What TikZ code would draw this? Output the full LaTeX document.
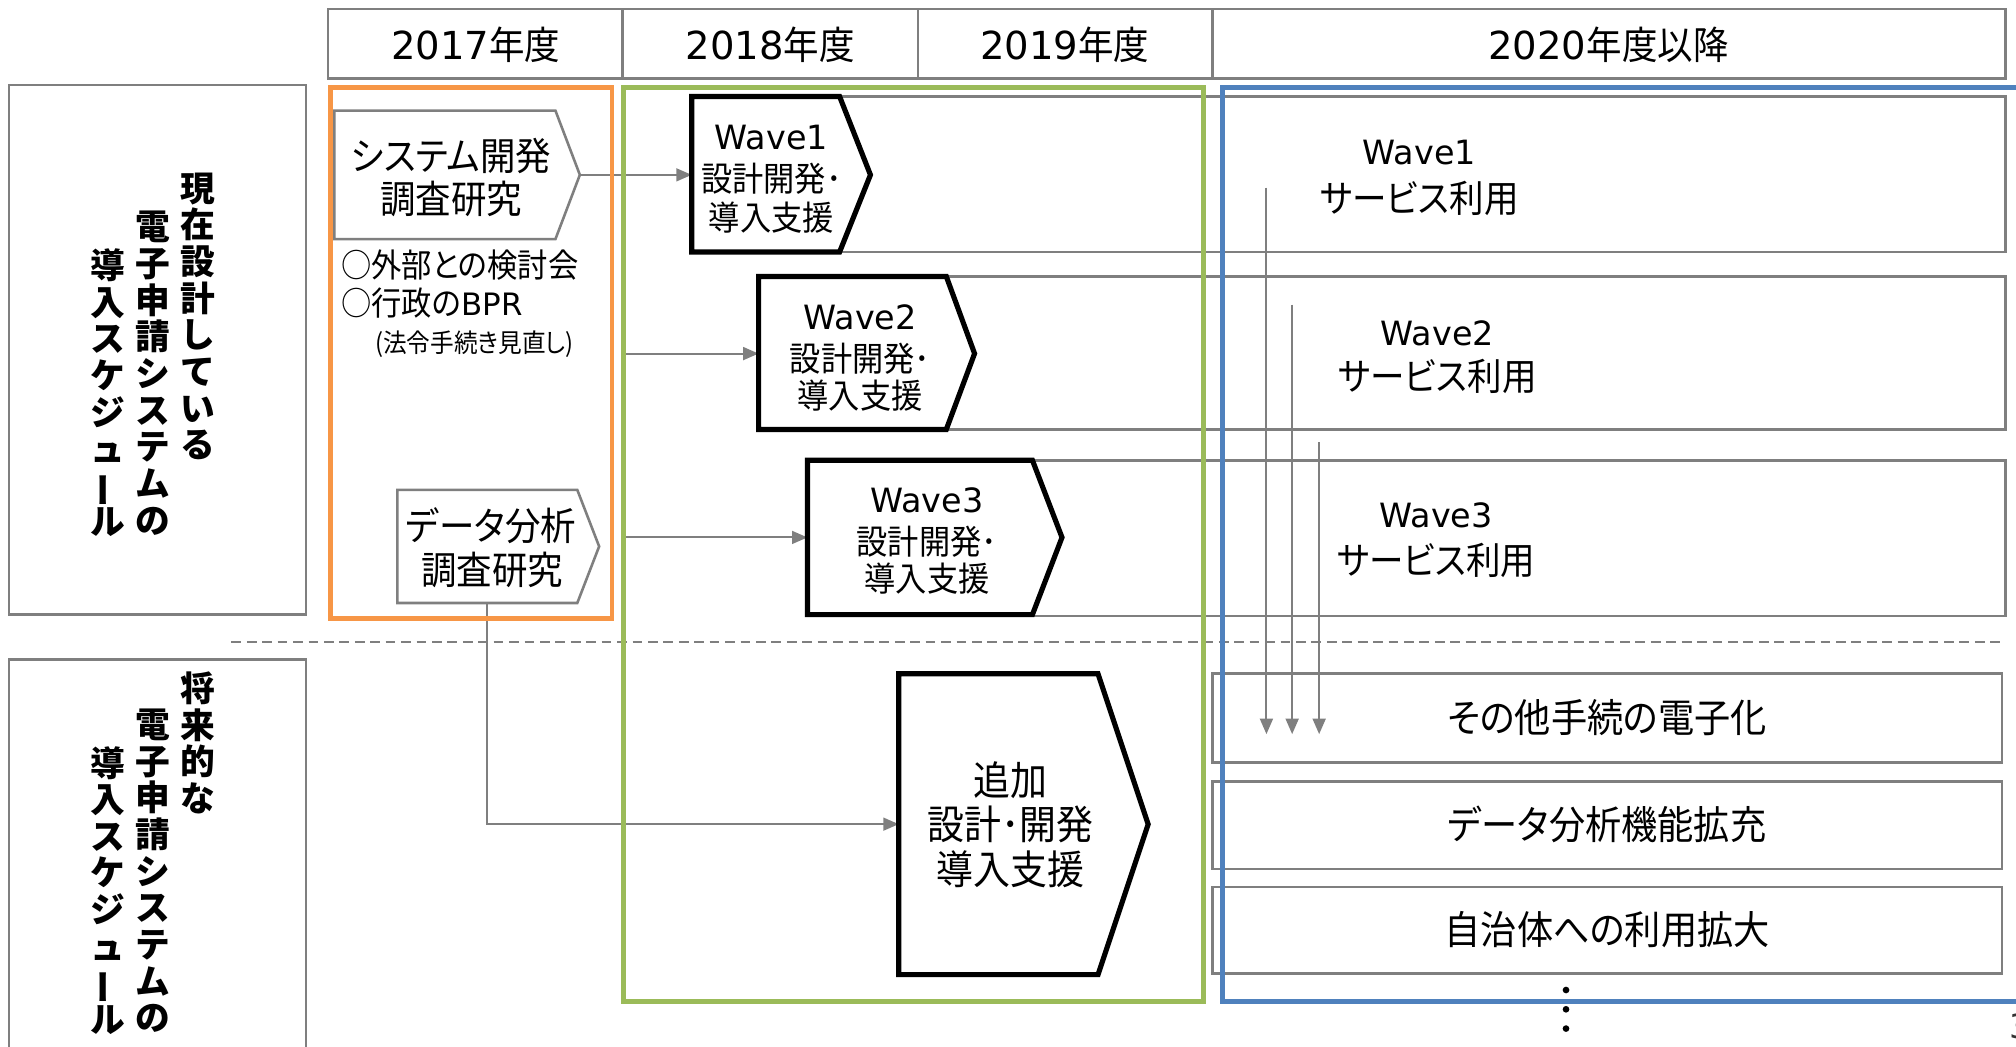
\documentclass[tikz,border=0pt]{standalone}
\usepackage{fontspec}
\usepackage{graphicx}
\setmainfont{Noto Sans CJK JP}[FakeStretch=0.92,RawFeature=+palt]
\newfontfamily\lat{DejaVu Sans}
\newfontfamily\vjp{Noto Sans CJK JP}
\usetikzlibrary{arrows.meta}
\definecolor{lgray}{HTML}{7F7F7F}
\definecolor{borange}{HTML}{F79646}
\definecolor{bgreen}{HTML}{9BBB59}
\definecolor{bblue}{HTML}{4F81BD}
\newcommand{\vbar}{\rotatebox[origin=c]{90}{ー}}
\begin{document}
\begin{tikzpicture}[x=0.5pt,y=-0.5pt,
  gbox/.style={draw=lgray,line width=1pt},
  pentg/.style={draw=lgray,line width=1pt,fill=white},
  pentb/.style={draw=black,line width=2pt,fill=white,line join=miter},
  frameo/.style={draw=borange,line width=1.8pt},
  frameg/.style={draw=bgreen,line width=1.8pt},
  frameb/.style={draw=bblue,line width=2pt},
  conn/.style={draw=lgray,line width=0.8pt},
  arr/.style={conn,-{Triangle[length=6pt,width=5pt]}},
  t/.style={inner sep=0pt,font=\fontsize{15}{18}\selectfont},
  tn/.style={inner sep=0pt,font=\fontsize{12.8}{15}\selectfont},
  hdr/.style={inner sep=0pt,font=\fontsize{15}{18}\selectfont},
  ts/.style={inner sep=0pt,font=\fontsize{13.2}{15}\selectfont},
  tw/.style={inner sep=0pt,font=\lat\fontsize{13}{15}\selectfont},
  tr/.style={inner sep=0pt,font=\fontsize{14.6}{17}\selectfont},
  tb/.style={inner sep=0pt,font=\fontsize{15.3}{18}\selectfont},
  ta/.style={inner sep=0pt,font=\fontsize{15.6}{18}\selectfont},
  vlab/.style={inner sep=0pt,anchor=north,align=center,font=\vjp\bfseries\fontsize{13.5}{14.25}\selectfont},
]
\useasboundingbox (0,0) rectangle (1568,814);
\clip (0,0) rectangle (1568,814);

% header
\draw[gbox] (255,7) rectangle (484,61);
\draw[gbox] (484,7) rectangle (714,61);
\draw[gbox] (714,7) rectangle (943,61);
\draw[gbox] (943,7) rectangle (1560,61);
\node[hdr] (h1) at (370,35) {{\lat 2017}年度};
\node[hdr] (h2) at (599,35) {{\lat 2018}年度};
\node[hdr] (h3) at (828,35) {{\lat 2019}年度};
\node[hdr] (h4) at (1251,35) {{\lat 2020}年度以降};

% left label boxes
\draw[gbox] (7,66) rectangle (238,478);
\draw[gbox] (7,513) rectangle (238,840);
\node[vlab] (l1a) at (154,134) {現\\在\\設\\計\\し\\て\\い\\る};
\node[vlab] (l1b) at (119,164) {電\\子\\申\\請\\シ\\ス\\テ\\ム\\の};
\node[vlab] (l1c) at (84,193) {導\\入\\ス\\ケ\\ジ\\ュ\\\vbar\\ル};
\node[vlab] (l2a) at (154,522) {将\\来\\的\\な};
\node[vlab] (l2b) at (119,551) {電\\子\\申\\請\\シ\\ス\\テ\\ム\\の};
\node[vlab] (l2c) at (84,580) {導\\入\\ス\\ケ\\ジ\\ュ\\\vbar\\ル};

% dashed separator
\draw[lgray,line width=0.8pt,dash pattern=on 3.8pt off 2.2pt] (180,499) -- (1557,499);

% row boxes (right side)
\draw[gbox] (600,75) rectangle (1560,196);
\draw[gbox] (650,215) rectangle (1560,334);
\draw[gbox] (660,358) rectangle (1560,479);
\draw[gbox] (943,524) rectangle (1557,593);
\draw[gbox] (943,608) rectangle (1557,676);
\draw[gbox] (943,690) rectangle (1557,757);

% coordinates for connectors
\coordinate (sysTip) at (451,136);
\coordinate (w1in) at (538,136);
\coordinate (a2s) at (487,275);
\coordinate (w2in) at (590,275);
\coordinate (a3s) at (487,418);
\coordinate (w3in) at (628,418);
\coordinate (dataBot) at (379,469);
\coordinate (addIn) at (699,641);
\coordinate (v1s) at (985,146);
\coordinate (v1e) at (985,571);
\coordinate (v2s) at (1005,237);
\coordinate (v2e) at (1005,571);
\coordinate (v3s) at (1026,344);
\coordinate (v3e) at (1026,571);

% connectors
\draw[arr] (sysTip) -- (w1in);
\draw[arr] (a2s) -- (w2in);
\draw[arr] (a3s) -- (w3in);
\draw[arr] (dataBot) |- (addIn);
\draw[arr] (v1s) -- (v1e);
\draw[arr] (v2s) -- (v2e);
\draw[arr] (v3s) -- (v3e);

% gray pentagons
\draw[pentg] (260,86) -- (432,86) -- (451,136) -- (432,186) -- (260,186) -- cycle;
\draw[pentg] (309,381) -- (449,381) -- (466,425) -- (449,469) -- (309,469) -- cycle;

% black pentagons
\draw[pentb] (538,75) -- (653,75) -- (677,136) -- (653,196) -- (538,196) -- cycle;
\draw[pentb] (590,215) -- (736,215) -- (758,275) -- (736,334) -- (590,334) -- cycle;
\draw[pentb] (628,358) -- (803,358) -- (826,418) -- (803,478) -- (628,478) -- cycle;
\draw[pentb] (699,524) -- (854,524) -- (893,641) -- (854,758) -- (699,758) -- cycle;

% coloured frames
\draw[frameo] (257,68) rectangle (476,481);
\draw[frameg] (485,68) rectangle (936,779);
\draw[frameb] (951,68) rectangle (1590,779);

% texts in 2017 column
\node[t] (sys1) at (351,121) {システム開発};
\node[t] (sys2) at (351,155) {調査研究};
\node[tn,anchor=west] (n1) at (265,206) {○外部との検討会};
\node[tn,anchor=west] (n2) at (265,236) {○行政の{\lat\fontsize{12}{14}\selectfont BPR}};
\node[inner sep=0pt,font=\fontsize{10}{12}\selectfont] (n3) at (369,268) {(法令手続き見直し)};
\node[t] (dat1) at (382,409) {データ分析};
\node[t] (dat2) at (383,443) {調査研究};

% wave pentagon texts
\node[tw] (w1a) at (600,107) {Wave1};
\node[ts] (w1b) at (600,139) {設計開発･};
\node[ts] (w1c) at (600,169) {導入支援};
\node[tw] (w2a) at (669,247) {Wave2};
\node[ts] (w2b) at (669,279) {設計開発･};
\node[ts] (w2c) at (669,308) {導入支援};
\node[tw] (w3a) at (721,389) {Wave3};
\node[ts] (w3b) at (721,421) {設計開発･};
\node[ts] (w3c) at (721,450) {導入支援};

% additional pentagon
\node[ta] (ad1) at (786,607) {追加};
\node[ta] (ad2) at (786,641) {設計･開発};
\node[ta] (ad3) at (786,676) {導入支援};

% right texts
\node[tw] (r1a) at (1104,119) {Wave1};
\node[tr] (r1b) at (1104,154) {サービス利用};
\node[tw] (r2a) at (1118,259) {Wave2};
\node[tr] (r2b) at (1118,293) {サービス利用};
\node[tw] (r3a) at (1117,401) {Wave3};
\node[tr] (r3b) at (1117,436) {サービス利用};

\node[tb] (b1) at (1250,558) {その他手続の電子化};
\node[tb] (b2) at (1250,641) {データ分析機能拡充};
\node[tb] (b3) at (1250,723) {自治体への利用拡大};

% vertical ellipsis
\fill (1218,770) circle (2.6);
\fill (1218,785) circle (2.6);
\fill (1218,800) circle (2.6);

% page number (cut off at edge)
\node[inner sep=0pt,font=\lat\fontsize{13}{15}\selectfont,text=black!80] (pg) at (1571,798) {3};
\end{tikzpicture}
\end{document}
